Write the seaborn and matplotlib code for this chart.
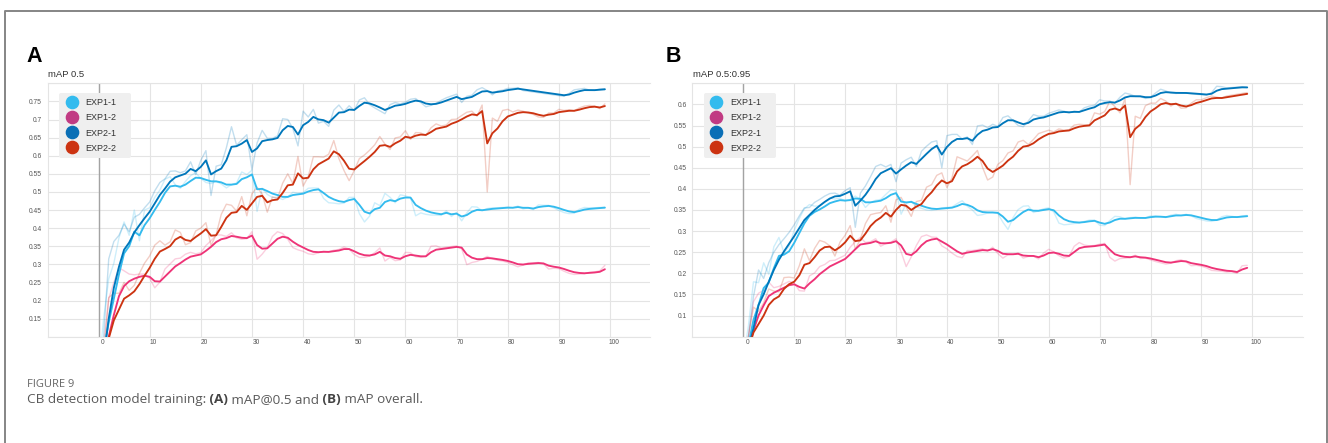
import numpy as np
import pandas as pd
import matplotlib
matplotlib.use("Agg")
import matplotlib.pyplot as plt
import seaborn as sns
from matplotlib.lines import Line2D
from matplotlib.transforms import ScaledTranslation

# ---------------- data ----------------
RUNS = ["EXP1-1", "EXP1-2", "EXP2-1", "EXP2-2"]
LINE_COLORS = ["#33bbee", "#ee3377", "#0077bb", "#cc3311"]
LEGEND_COLORS = ["#33bbee", "#c13b83", "#0a6fb6", "#cc3311"]
SMOOTHING = 0.6  # TensorBoard smoothing weight

X_TICKS = [0, 10, 20, 30, 40, 50, 60, 70, 80, 90, 100]

# Panel A: mAP 0.5 (raw per-epoch values)
A_EXP1_1 = [0.0, 0.15, 0.26, 0.303, 0.373, 0.417, 0.38, 0.45, 0.365, 0.45,
            0.456, 0.485, 0.505, 0.535, 0.542, 0.52, 0.51, 0.529, 0.545, 0.553,
            0.537, 0.526, 0.523, 0.529, 0.522, 0.511, 0.52, 0.525, 0.555, 0.548,
            0.56, 0.446, 0.51, 0.493, 0.485, 0.485, 0.479, 0.486, 0.499, 0.496,
            0.498, 0.51, 0.511, 0.51, 0.482, 0.47, 0.469, 0.467, 0.469, 0.485,
            0.485, 0.44, 0.417, 0.433, 0.47, 0.462, 0.496, 0.485, 0.47, 0.492,
            0.489, 0.484, 0.434, 0.442, 0.438, 0.436, 0.436, 0.435, 0.448, 0.432,
            0.443, 0.42, 0.442, 0.459, 0.458, 0.448, 0.454, 0.456, 0.456, 0.457,
            0.458, 0.456, 0.461, 0.453, 0.456, 0.451, 0.464, 0.463, 0.463, 0.456,
            0.449, 0.443, 0.44, 0.441, 0.452, 0.457, 0.456, 0.456, 0.457, 0.458]
A_EXP1_2 = [0.0, 0.075, 0.205, 0.25, 0.29, 0.282, 0.273, 0.271, 0.273, 0.273,
            0.261, 0.235, 0.251, 0.287, 0.301, 0.315, 0.317, 0.328, 0.333, 0.329,
            0.332, 0.352, 0.365, 0.381, 0.381, 0.377, 0.387, 0.373, 0.369, 0.371,
            0.39, 0.314, 0.328, 0.346, 0.377, 0.39, 0.385, 0.369, 0.346, 0.34,
            0.336, 0.329, 0.327, 0.332, 0.336, 0.334, 0.339, 0.341, 0.348, 0.342,
            0.327, 0.319, 0.319, 0.323, 0.332, 0.345, 0.309, 0.319, 0.31, 0.312,
            0.333, 0.332, 0.321, 0.319, 0.322, 0.35, 0.351, 0.345, 0.347, 0.349,
            0.351, 0.343, 0.299, 0.305, 0.308, 0.314, 0.322, 0.315, 0.311, 0.309,
            0.305, 0.299, 0.293, 0.298, 0.304, 0.304, 0.305, 0.301, 0.287, 0.289,
            0.288, 0.281, 0.275, 0.272, 0.273, 0.274, 0.278, 0.279, 0.282, 0.297]
A_EXP2_1 = [0.0, 0.1, 0.315, 0.363, 0.38, 0.411, 0.39, 0.43, 0.438, 0.456,
            0.472, 0.503, 0.526, 0.536, 0.557, 0.558, 0.553, 0.558, 0.583, 0.548,
            0.587, 0.614, 0.49, 0.571, 0.575, 0.622, 0.68, 0.629, 0.644, 0.658,
            0.561, 0.635, 0.67, 0.648, 0.648, 0.655, 0.702, 0.70, 0.675, 0.627,
            0.723, 0.707, 0.728, 0.69, 0.695, 0.681, 0.726, 0.74, 0.722, 0.738,
            0.725, 0.754, 0.76, 0.741, 0.732, 0.724, 0.716, 0.741, 0.747, 0.743,
            0.748, 0.756, 0.758, 0.747, 0.735, 0.739, 0.745, 0.753, 0.76, 0.765,
            0.77, 0.747, 0.764, 0.767, 0.782, 0.788, 0.78, 0.768, 0.779, 0.781,
            0.786, 0.786, 0.788, 0.78, 0.778, 0.776, 0.774, 0.772, 0.77, 0.768,
            0.766, 0.764, 0.772, 0.782, 0.784, 0.786, 0.781, 0.781, 0.784, 0.785]
A_EXP2_2 = [0.0, 0.05, 0.208, 0.22, 0.22, 0.25, 0.228, 0.242, 0.275, 0.303,
            0.323, 0.353, 0.365, 0.353, 0.362, 0.395, 0.388, 0.354, 0.36, 0.392,
            0.40, 0.415, 0.352, 0.382, 0.438, 0.466, 0.463, 0.447, 0.487, 0.434,
            0.495, 0.513, 0.494, 0.444, 0.486, 0.482, 0.524, 0.55, 0.523, 0.598,
            0.516, 0.542, 0.597, 0.597, 0.596, 0.604, 0.642, 0.592, 0.559, 0.531,
            0.559, 0.592, 0.602, 0.615, 0.63, 0.653, 0.632, 0.617, 0.649, 0.652,
            0.669, 0.645, 0.664, 0.663, 0.656, 0.677, 0.688, 0.682, 0.685, 0.70,
            0.701, 0.711, 0.72, 0.723, 0.709, 0.74, 0.50, 0.704, 0.695, 0.725,
            0.728, 0.721, 0.726, 0.723, 0.718, 0.714, 0.707, 0.706, 0.718, 0.718,
            0.728, 0.725, 0.727, 0.724, 0.732, 0.737, 0.739, 0.737, 0.73, 0.743]

# Panel B: mAP 0.5:0.95 (raw per-epoch values)
B_EXP1_1 = [0.0, 0.075, 0.18, 0.178, 0.225, 0.198, 0.263, 0.285, 0.249, 0.264,
            0.302, 0.33, 0.353, 0.363, 0.359, 0.36, 0.369, 0.378, 0.376, 0.378,
            0.371, 0.375, 0.383, 0.375, 0.356, 0.368, 0.373, 0.375, 0.387, 0.398,
            0.396, 0.34, 0.365, 0.371, 0.357, 0.354, 0.35, 0.349, 0.351, 0.355,
            0.356, 0.357, 0.365, 0.372, 0.359, 0.35, 0.337, 0.339, 0.343, 0.344,
            0.342, 0.321, 0.304, 0.332, 0.351, 0.359, 0.36, 0.344, 0.348, 0.353,
            0.355, 0.345, 0.319, 0.315, 0.316, 0.318, 0.319, 0.323, 0.326, 0.326,
            0.314, 0.313, 0.325, 0.335, 0.334, 0.329, 0.332, 0.333, 0.331, 0.331,
            0.336, 0.336, 0.334, 0.332, 0.338, 0.34, 0.337, 0.34, 0.336, 0.33,
            0.327, 0.324, 0.323, 0.326, 0.334, 0.337, 0.335, 0.333, 0.336, 0.337]
B_EXP1_2 = [0.0, 0.05, 0.133, 0.153, 0.16, 0.179, 0.166, 0.169, 0.175, 0.181,
            0.177, 0.159, 0.158, 0.194, 0.201, 0.216, 0.221, 0.23, 0.231, 0.237,
            0.243, 0.262, 0.275, 0.285, 0.273, 0.275, 0.282, 0.264, 0.271, 0.274,
            0.282, 0.251, 0.216, 0.239, 0.266, 0.287, 0.291, 0.286, 0.285, 0.265,
            0.258, 0.248, 0.24, 0.237, 0.254, 0.254, 0.256, 0.258, 0.253, 0.262,
            0.247, 0.236, 0.244, 0.245, 0.248, 0.236, 0.24, 0.241, 0.234, 0.248,
            0.257, 0.251, 0.242, 0.236, 0.24, 0.264, 0.273, 0.267, 0.265, 0.266,
            0.269, 0.271, 0.238, 0.229, 0.235, 0.236, 0.237, 0.243, 0.235, 0.236,
            0.232, 0.228, 0.225, 0.222, 0.224, 0.23, 0.232, 0.227, 0.218, 0.219,
            0.217, 0.213, 0.207, 0.206, 0.205, 0.203, 0.204, 0.2, 0.218, 0.219]
B_EXP2_1 = [0.0, 0.05, 0.145, 0.208, 0.188, 0.225, 0.25, 0.268, 0.282, 0.297,
            0.315, 0.336, 0.355, 0.356, 0.368, 0.375, 0.383, 0.389, 0.39, 0.385,
            0.396, 0.403, 0.309, 0.39, 0.407, 0.429, 0.453, 0.458, 0.452, 0.458,
            0.417, 0.461, 0.469, 0.475, 0.453, 0.489, 0.501, 0.511, 0.514, 0.45,
            0.526, 0.529, 0.529, 0.518, 0.523, 0.505, 0.549, 0.551, 0.545, 0.553,
            0.548, 0.569, 0.573, 0.562, 0.55, 0.547, 0.561, 0.576, 0.572, 0.572,
            0.579, 0.583, 0.587, 0.584, 0.58, 0.584, 0.582, 0.592, 0.596, 0.598,
            0.611, 0.608, 0.608, 0.603, 0.617, 0.627, 0.624, 0.619, 0.619, 0.614,
            0.617, 0.627, 0.636, 0.632, 0.627, 0.626, 0.627, 0.627, 0.625, 0.624,
            0.623, 0.622, 0.628, 0.643, 0.642, 0.639, 0.64, 0.641, 0.642, 0.64]
B_EXP2_2 = [0.0, 0.05, 0.12, 0.11, 0.13, 0.163, 0.158, 0.156, 0.19, 0.191,
            0.189, 0.218, 0.258, 0.23, 0.259, 0.278, 0.274, 0.265, 0.241, 0.274,
            0.29, 0.313, 0.257, 0.281, 0.318, 0.339, 0.342, 0.344, 0.36, 0.321,
            0.374, 0.38, 0.357, 0.335, 0.37, 0.373, 0.404, 0.41, 0.432, 0.438,
            0.403, 0.426, 0.476, 0.471, 0.466, 0.478, 0.491, 0.451, 0.421, 0.428,
            0.458, 0.467, 0.485, 0.49, 0.511, 0.515, 0.505, 0.517, 0.531, 0.535,
            0.539, 0.535, 0.542, 0.539, 0.54, 0.551, 0.553, 0.552, 0.552, 0.58,
            0.577, 0.583, 0.607, 0.595, 0.58, 0.614, 0.41, 0.572, 0.567, 0.597,
            0.603, 0.603, 0.614, 0.608, 0.596, 0.603, 0.591, 0.592, 0.603, 0.611,
            0.611, 0.616, 0.62, 0.617, 0.615, 0.62, 0.622, 0.624, 0.626, 0.628]

# ---------------- style ----------------
sns.set_theme(style="white")
plt.rcParams['font.family'] = ['Liberation Sans', 'DejaVu Sans']
CAPTION_FONT = ['Open Sans', 'DejaVu Sans']

W, H = 1328, 443
fig = plt.figure(figsize=(W / 100, H / 100), dpi=100)
fig.patch.set_facecolor('white')


def fx(px):
    return px / W


def fy(py):
    return 1 - py / H


def ema(vals, w=SMOOTHING):
    out, last = [], vals[0]
    for v in vals:
        last = w * last + (1 - w) * v
        out.append(last)
    return out


def fmt(v):
    return f"{v:.2f}".rstrip('0').rstrip('.')


# outer frame (open at the bottom)
fig.add_artist(Line2D([fx(5), fx(5), fx(1326.5), fx(1326.5)],
                      [0, fy(11), fy(11), 0], color='#858585', lw=1.4,
                      transform=fig.transFigure))

GRID = '#e4e4e4'


def draw_panel(px_left, px_right, raw_list, ylim, title, letter, letter_px):
    top, bottom = 83.3, 336.7
    ax = fig.add_axes([fx(px_left), fy(bottom), (px_right - px_left) / W,
                       (bottom - top) / H])
    ax.set_facecolor('white')
    for raw, col in zip(raw_list, LINE_COLORS):
        df = pd.DataFrame({"epoch": range(len(raw)), "value": raw})
        sns.lineplot(data=df, x="epoch", y="value", ax=ax, color=col,
                     alpha=0.24, lw=1.0, estimator=None, legend=False, zorder=2)
    for raw, col in zip(raw_list, LINE_COLORS):
        df = pd.DataFrame({"epoch": range(len(raw)), "value": ema(raw)})
        sns.lineplot(data=df, x="epoch", y="value", ax=ax, color=col,
                     lw=1.35, estimator=None, legend=False, zorder=3)

    x_per_px = 100 / (610 - 98.5) if letter == 'A' else 100 / (1252.3 - 743.3)
    x0_px = 98.5 if letter == 'A' else 743.3
    ax.set_xlim((px_left - x0_px) * x_per_px, (px_right - x0_px) * x_per_px)
    ylo, yhi = ylim
    ax.set_ylim(ylo, yhi)
    yt = np.round(np.arange(ylo, yhi + 1e-9, 0.05), 2)
    ax.set_yticks(yt)
    ax.set_yticklabels(['' if (v == yt[0] or v == yt[-1]) else fmt(v) for v in yt])
    ax.set_xticks(X_TICKS)
    ax.set_xticklabels([str(t) for t in X_TICKS])
    ax.set_xlabel('')
    ax.set_ylabel('')
    ax.grid(True, color=GRID, lw=0.8)
    ax.set_axisbelow(True)
    for s in ['top', 'bottom', 'left']:
        ax.spines[s].set_color(GRID)
        ax.spines[s].set_linewidth(0.8)
        ax.spines[s].set_visible(True)
    ax.spines['right'].set_visible(False)
    ax.axvline(0, color='#a3a3a3', lw=1.0, zorder=1.5)
    ax.tick_params(axis='both', length=0, labelsize=4.8, labelcolor='#555555')
    ax.tick_params(axis='y', pad=4.1)
    ax.tick_params(axis='x', pad=1.8)
    off = ScaledTranslation(0.04, 0, fig.dpi_scale_trans)
    for lab in ax.get_xticklabels():
        lab.set_transform(lab.get_transform() + off)

    # legend
    handles = [Line2D([], [], ls='none', marker='o', ms=8.8, mfc=c, mec=c)
               for c in LEGEND_COLORS]
    lw_ax = 72.0 / (px_right - px_left)
    lx = 11.5 / (px_right - px_left)
    ltop = (bottom - 93.0) / (bottom - top)
    leg = ax.legend(handles, RUNS, loc='upper left',
                    bbox_to_anchor=(lx, ltop - 0.3, lw_ax, 0.3), mode='expand',
                    borderaxespad=0, frameon=True, fancybox=True,
                    facecolor='#efefef', edgecolor='none', framealpha=1,
                    fontsize=6.5, handlelength=1.6, handleheight=0.7,
                    handletextpad=0.68, labelspacing=0.67, borderpad=0.6)
    for t in leg.get_texts():
        t.set_color('#333333')

    fig.text(fx(px_left + 0.5), fy(77.3), title, fontsize=6.8, color='#333333',
             va='baseline', ha='left')
    fig.text(fx(letter_px), fy(62.3), letter, fontsize=15.5, weight='bold',
             color='black', va='baseline', ha='left')
    return ax


axA = draw_panel(47.7, 650.0, [A_EXP1_1, A_EXP1_2, A_EXP2_1, A_EXP2_2],
                 (0.1, 0.8), "mAP 0.5", "A", 26.5)
axB = draw_panel(692.3, 1303.0, [B_EXP1_1, B_EXP1_2, B_EXP2_1, B_EXP2_2],
                 (0.05, 0.65), "mAP 0.5:0.95", "B", 665.5)

# caption
fig.text(fx(27), fy(387.3), "FIGURE 9", fontsize=8, color='#666666',
         family=CAPTION_FONT, va='baseline', ha='left')
renderer = fig.canvas.get_renderer()
segments = [("CB detection model training:", 'normal', '#5a5a5a'),
            (" (A)", 'bold', '#444444'),
            (" mAP@0.5 and", 'normal', '#5a5a5a'),
            (" (B)", 'bold', '#444444'),
            (" mAP overall.", 'normal', '#5a5a5a')]
xcur = fx(27)
for s, wgt, col in segments:
    t = fig.text(xcur, fy(403.3), s, fontsize=9.7, weight=wgt, color=col,
                 family=CAPTION_FONT, va='baseline', ha='left')
    bb = t.get_window_extent(renderer)
    xcur = bb.x1 / W

fig.savefig('out.png', dpi=100, facecolor='white')
